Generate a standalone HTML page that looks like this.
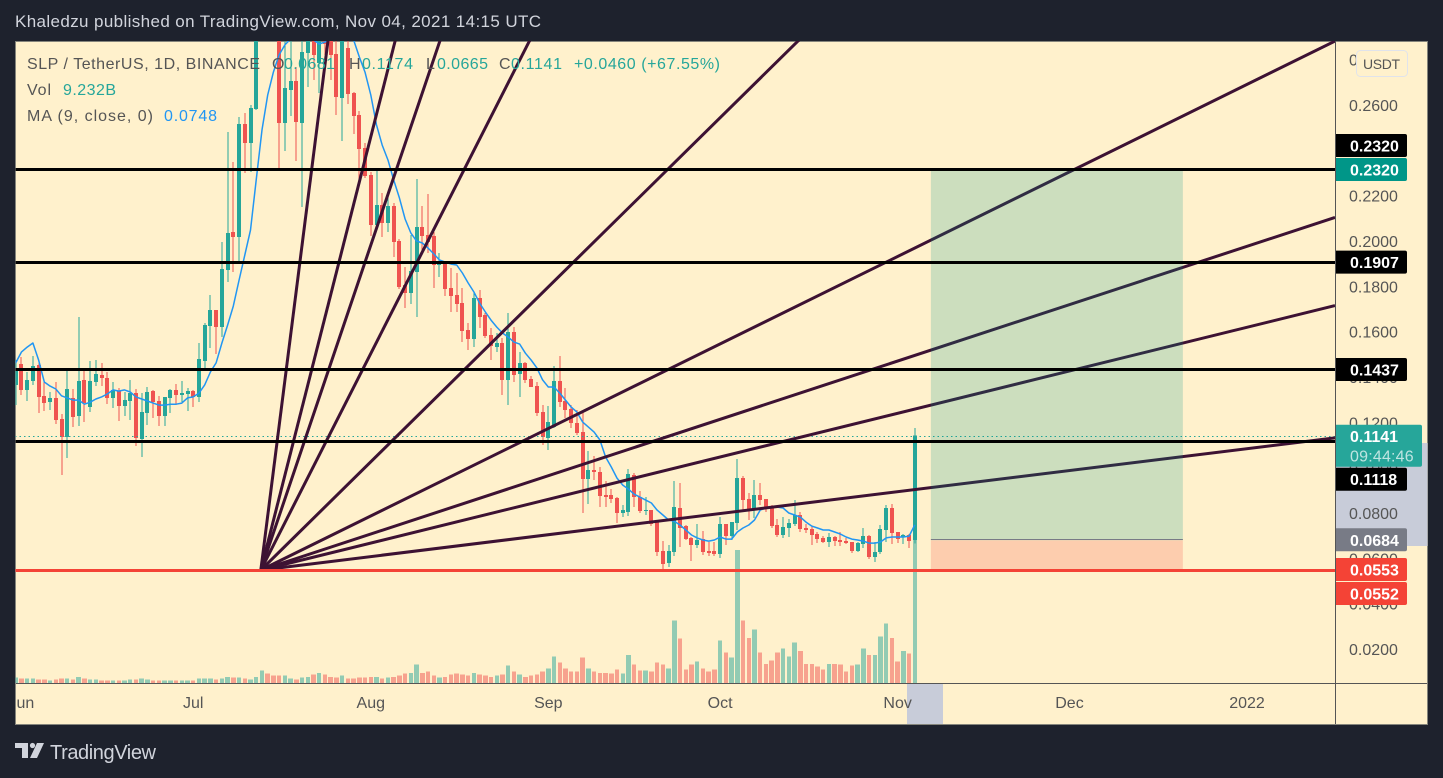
<!DOCTYPE html>
<html lang="en">
<head>
<meta charset="utf-8">
<title>SLP / TetherUS chart</title>
<style>
html,body{margin:0;padding:0;width:1443px;height:778px;overflow:hidden;background:#1e222d}
svg{display:block;font-family:"Liberation Sans",sans-serif}
</style>
</head>
<body>
<svg id="chart" width="1443" height="778" viewBox="0 0 1443 778" xmlns="http://www.w3.org/2000/svg">
  <defs>
    <clipPath id="plot-clip"><rect x="15.5" y="41" width="1320" height="642"/></clipPath>
    <clipPath id="time-clip"><rect x="16" y="684" width="1319" height="40"/></clipPath>
  </defs>
  <rect x="0" y="0" width="1443" height="778" fill="#1e222d"/>
  <text x="15" y="27" font-size="17" fill="#d1d4dc" textLength="526" lengthAdjust="spacing">Khaledzu published on TradingView.com, Nov 04, 2021 14:15 UTC</text>
  <rect x="15.5" y="41.5" width="1412" height="683" fill="#fff1cc" stroke="#85857c" stroke-width="1"/>
  <rect x="1336" y="443" width="91.5" height="103" fill="#c8ccd9"/>
  <rect x="907" y="684" width="36" height="40" fill="#c8ccd9"/>
  <g id="plot" clip-path="url(#plot-clip)"></g>
  <g id="overlay" clip-path="url(#plot-clip)"></g>
  <line x1="16" y1="683.5" x2="1427" y2="683.5" stroke="#555" stroke-width="1"/>
  <line x1="1335.5" y1="41" x2="1335.5" y2="724" stroke="#555" stroke-width="1"/>
  <g id="time-axis" clip-path="url(#time-clip)"></g>
  <g id="price-axis"></g>
  <g id="price-tags"></g>
  <g>
    <rect x="1356.5" y="50.5" width="51" height="26" rx="4" fill="#fff1cc" stroke="#e0e3eb"/>
    <text x="1363" y="69" font-size="14" fill="#555" textLength="37" lengthAdjust="spacing">USDT</text>
  </g>
  <g font-size="16">
    <text x="27" y="69" fill="#555" textLength="233" lengthAdjust="spacing">SLP / TetherUS, 1D, BINANCE</text>
    <text x="272" y="69" fill="#555">O</text>
    <text x="284" y="69" fill="#26a69a" textLength="51" lengthAdjust="spacing">0.0681</text>
    <text x="349" y="69" fill="#555">H</text>
    <text x="362" y="69" fill="#26a69a" textLength="51" lengthAdjust="spacing">0.1174</text>
    <text x="426" y="69" fill="#555">L</text>
    <text x="437" y="69" fill="#26a69a" textLength="51" lengthAdjust="spacing">0.0665</text>
    <text x="499" y="69" fill="#555">C</text>
    <text x="511" y="69" fill="#26a69a" textLength="51" lengthAdjust="spacing">0.1141</text>
    <text x="574" y="69" fill="#26a69a" textLength="146" lengthAdjust="spacing">+0.0460 (+67.55%)</text>
    <text x="27" y="95" fill="#555" textLength="24" lengthAdjust="spacing">Vol</text>
    <text x="63" y="95" fill="#26a69a" textLength="53" lengthAdjust="spacing">9.232B</text>
    <text x="27" y="121" fill="#555" textLength="126" lengthAdjust="spacing">MA (9, close, 0)</text>
    <text x="164" y="121" fill="#2196f3" textLength="53" lengthAdjust="spacing">0.0748</text>
  </g>
  <g>
    <path fill="#d1d4dc" d="M15 743h13v15h-6v-10h-7zM37 743h7l-7 15h-7z"/>
    <circle cx="32.5" cy="745.5" r="2.6" fill="#d1d4dc"/>
    <text x="50" y="759" font-size="20" fill="#d1d4dc" textLength="106" lengthAdjust="spacing">TradingView</text>
  </g>
</svg>
<script>
const opens = [.1365,.1457,.1343,.1383,.1453,.1317,.1289,.1308,.1214,.1135,
.1308,.1227,.1387,.1267,.1378,.1409,.1396,.1308,.1338,.1272,
.1294,.1329,.1126,.1241,.1338,.1294,.1227,.1308,.1343,.1321,
.1325,.1338,.1312,.1470,.1625,.1696,.1620,.1872,.2040,.2018,
.2516,.2432,.2583,.2950,.3300,.3100,.3000,.2521,.2666,.2706,
.2521,.2829,.2953,.2785,.2931,.2931,.2825,.2631,.2851,.2653,
.2556,.2411,.2291,.2071,.2159,.2080,.2154,.2000,.1806,.1771,
.1863,.2062,.2026,.2022,.1894,.1907,.1792,.1762,.1726,.1607,
.1567,.1749,.1673,.1585,.1532,.1550,.1387,.1598,.1413,.1462,
.1391,.1360,.1245,.1131,.1179,.1383,.1294,.1258,.1197,.1157,
.0949,.0990,.0981,.0879,.0879,.0866,.0800,.0804,.0968,.0870,
.0809,.0813,.0760,.0632,.0579,.0628,.0822,.0742,.0690,.0659,
.0685,.0632,.0632,.0619,.0751,.0698,.0756,.0954,.0861,.0813,
.0879,.0861,.0826,.0747,.0703,.0734,.0751,.0791,.0734,.0729,
.0707,.0690,.0672,.0694,.0681,.0676,.0672,.0632,.0663,.0698,
.0606,.0628,.0725,.0822,.0716,.0694,.0703,.0681];
const closes = [.1440,.1343,.1387,.1449,.1312,.1285,.1308,.1210,.1135,.1347,
.1223,.1383,.1285,.1383,.1413,.1396,.1308,.1343,.1272,.1298,
.1329,.1131,.1245,.1334,.1289,.1227,.1312,.1343,.1321,.1329,
.1338,.1312,.1479,.1629,.1696,.1620,.1876,.2035,.2018,.2516,
.2432,.2587,.2975,.3300,.3100,.3000,.2521,.2675,.2706,.2525,
.2834,.2931,.2821,.2931,.2869,.2821,.2635,.2909,.2648,.2551,
.2406,.2286,.2071,.2159,.2080,.2154,.1995,.1797,.1771,.1867,
.2062,.2022,.1995,.1894,.1912,.1788,.1757,.1722,.1603,.1567,
.1749,.1664,.1581,.1536,.1550,.1387,.1598,.1409,.1462,.1387,
.1356,.1241,.1135,.1201,.1383,.1289,.1254,.1197,.1153,.0949,
.0990,.0981,.0875,.0870,.0861,.0800,.0813,.0972,.0870,.0809,
.0813,.0751,.0628,.0575,.0632,.0826,.0734,.0685,.0659,.0681,
.0628,.0624,.0619,.0751,.0698,.0760,.0954,.0857,.0813,.0879,
.0857,.0822,.0742,.0703,.0738,.0756,.0791,.0729,.0725,.0703,
.0685,.0672,.0694,.0676,.0672,.0667,.0632,.0667,.0698,.0606,
.0628,.0729,.0822,.0712,.0685,.0703,.0676,.1141];
const highs = [.1475,.1488,.1422,.1493,.1462,.1378,.1334,.1378,.1236,.1427,
.1347,.1664,.1427,.1470,.1475,.1462,.1422,.1378,.1351,.1334,
.1387,.1347,.1329,.1356,.1343,.1317,.1312,.1347,.1369,.1383,
.1351,.1343,.1550,.1638,.1762,.1696,.1995,.2481,.2348,.2547,
.2565,.2600,.3019,.3400,.3350,.3200,.3050,.2909,.2931,.2768,
.2975,.2953,.2975,.2953,.2953,.2953,.2931,.2975,.2918,.2657,
.2573,.2432,.2304,.2322,.2212,.2194,.2168,.2009,.1885,.2026,
.2273,.2154,.2207,.2040,.1947,.1912,.1881,.1859,.1792,.1638,
.1771,.1784,.1682,.1616,.1594,.1572,.1682,.1620,.1510,.1466,
.1404,.1378,.1276,.1272,.1449,.1493,.1351,.1276,.1254,.1254,
.1074,.1052,.1003,.0941,.0905,.0870,.0835,.0994,.0976,.0897,
.0870,.0813,.0760,.0676,.0659,.0941,.0932,.0747,.0694,.0751,
.0720,.0672,.0672,.0782,.0751,.0760,.1038,.0963,.0888,.0945,
.0932,.0861,.0835,.0773,.0782,.0773,.0857,.0804,.0751,.0742,
.0716,.0698,.0712,.0698,.0716,.0690,.0672,.0672,.0734,.0703,
.0672,.0747,.0835,.0840,.0716,.0707,.0707,.1174];
const lows = [.1276,.1321,.1294,.1365,.1241,.1250,.1254,.1192,.0968,.1043,
.1179,.1184,.1201,.1245,.1360,.1360,.1280,.1263,.1206,.1227,
.1210,.1096,.1047,.1188,.1219,.1184,.1184,.1241,.1276,.1289,
.1250,.1267,.1289,.1427,.1528,.1501,.1576,.1819,.1863,.1903,
.2300,.2304,.2578,.2900,.3000,.2950,.2317,.2397,.2551,.2353,
.2150,.2679,.2710,.2653,.2821,.2710,.2556,.2442,.2604,.2472,
.2238,.2278,.2022,.2057,.2018,.2040,.1929,.1788,.1705,.1722,
.1664,.1947,.1947,.1792,.1841,.1757,.1687,.1687,.1554,.1519,
.1532,.1616,.1572,.1475,.1510,.1321,.1276,.1378,.1312,.1374,
.1356,.1227,.1100,.1078,.1175,.1267,.1219,.1175,.1144,.0799,
.0840,.0945,.0826,.0826,.0844,.0756,.0782,.0786,.0826,.0800,
.0791,.0742,.0611,.0549,.0562,.0611,.0650,.0681,.0588,.0646,
.0615,.0611,.0611,.0602,.0659,.0681,.0725,.0804,.0769,.0778,
.0835,.0804,.0734,.0694,.0690,.0694,.0742,.0716,.0712,.0659,
.0667,.0667,.0650,.0654,.0654,.0663,.0624,.0628,.0646,.0597,
.0584,.0619,.0672,.0663,.0667,.0663,.0646,.0665];
const volumes = [.31,.25,.25,.25,.19,.19,.13,.19,.25,.25,
.19,.36,.25,.19,.19,.13,.13,.13,.13,.13,
.19,.19,.25,.19,.13,.13,.13,.13,.13,.13,
.13,.13,.25,.25,.25,.19,.25,.36,.31,.31,
.25,.19,.36,.71,.54,.42,.42,.42,.25,.19,
.31,.36,.48,.59,.48,.36,.31,.42,.25,.25,
.31,.31,.36,.36,.25,.31,.36,.42,.54,.59,
1.06,.59,.65,.42,.31,.36,.48,.54,.48,.42,
.59,.48,.42,.36,.42,.48,1.00,.65,.48,.36,
.42,.48,.65,.83,1.52,1.17,.83,.65,.65,1.46,
.83,.65,.59,.59,.54,.77,.54,1.63,1.06,.71,
.71,.65,1.17,1.06,.83,3.60,2.56,.77,1.06,1.23,
.83,.65,.77,2.44,1.75,1.46,7.67,3.60,2.61,3.08,
1.75,1.11,1.29,1.75,1.98,1.52,2.33,1.86,1.11,1.11,
.94,.77,1.11,1.11,1.06,.65,1.00,1.06,1.98,1.63,
1.63,2.67,3.42,2.61,1.23,1.86,1.69,9.232];
const maValues = [.1462,.1510,.1532,.1550,.1475,.1378,.1360,.1347,.1317,.1308,
.1298,.1298,.1280,.1289,.1303,.1312,.1325,.1343,.1338,.1343,
.1334,.1312,.1303,.1294,.1285,.1276,.1276,.1280,.1280,.1285,
.1308,.1312,.1329,.1365,.1422,.1462,.1550,.1629,.1713,.1828,
.1938,.2048,.2269,.2490,.2644,.2745,.2821,.2865,.2891,.2909,
.2918,.2904,.2887,.2869,.2878,.2896,.2922,.2931,.2922,.2887,
.2812,.2745,.2644,.2512,.2423,.2357,.2269,.2190,.2097,.2035,
.2000,.1991,.1969,.1943,.1916,.1907,.1898,.1894,.1859,.1815,
.1775,.1726,.1687,.1651,.1620,.1594,.1576,.1554,.1545,.1505,
.1475,.1440,.1387,.1356,.1356,.1329,.1298,.1267,.1245,.1201,
.1179,.1157,.1122,.1047,.1003,.0954,.0923,.0905,.0883,.0870,
.0857,.0844,.0813,.0791,.0769,.0764,.0747,.0725,.0703,.0690,
.0681,.0676,.0681,.0694,.0685,.0685,.0716,.0734,.0747,.0769,
.0813,.0822,.0826,.0826,.0822,.0800,.0791,.0782,.0760,.0742,
.0734,.0725,.0725,.0716,.0707,.0694,.0685,.0681,.0676,.0667,
.0667,.0672,.0690,.0694,.0694,.0694,.0698,.0748];
const priceTickLabels = ["0.2800","0.2600","0.2400","0.2200","0.2000","0.1800","0.1600","0.1400","0.1200","0.1000","0.0800","0.0600","0.0400","0.0200"];
const timeTickLabels = ["Jun","Jul","Aug","Sep","Oct","Nov","Dec","2022"];
const timeTickBars = [1,31,62,93,123,154,184,215];
const levelPrices = [0.2320,0.1907,0.1437,0.1118];
const supportPrice = 0.0553;
const lastPrice = 0.1141;
const fanRatios = [8,4,3,2,1,1/2,1/3,1/4,1/8];
const fanOriginBar = 42.8;
const fanOriginPrice = 0.0548;
const positionEntry = 0.0684;
const positionTarget = 0.2320;
const positionStop = 0.0553;
const positionStartBar = 159.8;
const positionEndBar = 203.8;

const SVGNS = "http://www.w3.org/2000/svg";
function xOf(i){return 15.7 + 5.727 * i;}
function yOf(p){return 105 + (0.26 - p) * 2266.67;}
function volTop(v){return 683 - v * 17.33;}
function mk(tag, attrs, parent){
  const el = document.createElementNS(SVGNS, tag);
  for (const k in attrs) el.setAttribute(k, attrs[k]);
  parent.appendChild(el);
  return el;
}
const plot = document.getElementById('plot');
const overlay = document.getElementById('overlay');
const timeAxis = document.getElementById('time-axis');
const priceAxis = document.getElementById('price-axis');
const priceTags = document.getElementById('price-tags');

/* volume histogram */
volumes.forEach(function(v, i){
  const up = closes[i] >= opens[i];
  const left = Math.round(xOf(i) - 2.25);
  const right = Math.round(xOf(i) + 2.25);
  const bar = mk('rect', {x: left, y: volTop(v), width: right - left, height: 683 - volTop(v), fill: up ? 'rgba(38,166,154,.5)' : 'rgba(239,83,80,.5)', 'shape-rendering': 'crispEdges'}, plot);
  
  
});

/* candles */
opens.forEach(function(o, i){
  const c = closes[i];
  const up = c >= o;
  const colour = up ? '#26a69a' : '#ef5350';
  const cx = Math.round(xOf(i));
  const g = mk('g', {fill: colour, 'shape-rendering': 'crispEdges'}, plot);
  
  
  const wick = mk('rect', {x: cx - 0.5, y: yOf(highs[i]), width: 1, height: yOf(lows[i]) - yOf(highs[i])}, g);
  
  
  const top = yOf(Math.max(o, c));
  const bottom = yOf(Math.min(o, c));
  const body = mk('rect', {x: cx - 2, y: top, width: 4, height: Math.max(1, bottom - top)}, g);
  
  
});

/* moving average */
const maLine = mk('polyline', {points: maValues.map(function(p, i){return xOf(i).toFixed(1) + ',' + yOf(p).toFixed(1);}).join(' '), fill: 'none', stroke: '#2196f3', 'stroke-width': 1.5, 'stroke-linejoin': 'round'}, plot);



/* last price dotted line */
const lastLine = mk('line', {x1: 15, x2: 1335, y1: Math.round(yOf(lastPrice)) + 0.5, y2: Math.round(yOf(lastPrice)) + 0.5, stroke: '#26a69a', 'stroke-width': 1, 'stroke-dasharray': '1.5 3'}, overlay);



/* gann fan */
const fx = xOf(fanOriginBar);
const fy = yOf(fanOriginPrice);
fanRatios.forEach(function(r){
  const slope = 0.985 * r;
  const fan = mk('line', {x1: fx, y1: fy, x2: 1335, y2: fy - (1335 - fx) * slope, stroke: '#3d1233', 'stroke-width': 3}, overlay);
  
  
});

/* long position */
const px1 = xOf(positionStartBar);
const pw = xOf(positionEndBar) - px1;
const profit = mk('rect', {x: px1, y: yOf(positionTarget) + 1, width: pw, height: yOf(positionEntry) - yOf(positionTarget), fill: 'rgba(0,150,136,.2)'}, overlay);


const loss = mk('rect', {x: px1, y: yOf(positionEntry) + 1, width: pw, height: yOf(positionStop) - yOf(positionEntry), fill: 'rgba(244,67,54,.2)'}, overlay);


const entry = mk('line', {x1: px1, x2: px1 + pw, y1: Math.floor(yOf(positionEntry)) + 0.5, y2: Math.floor(yOf(positionEntry)) + 0.5, stroke: '#787b86', 'stroke-width': 1}, overlay);



/* horizontal levels */
levelPrices.forEach(function(p){
  const ly = Math.floor(yOf(p) + 0.7) + 0.5;
  const lvl = mk('line', {x1: 15, x2: 1335, y1: ly, y2: ly, stroke: '#000', 'stroke-width': 3}, overlay);
  
  
});
const sy = Math.floor(yOf(supportPrice) + 1.3) + 0.5;
const support = mk('line', {x1: 15, x2: 1335, y1: sy, y2: sy, stroke: '#f44336', 'stroke-width': 3}, overlay);



/* axis labels */
timeTickLabels.forEach(function(t, i){
  const lab = mk('text', {x: xOf(timeTickBars[i]), y: 708, 'font-size': 16, fill: '#555', 'text-anchor': 'middle'}, timeAxis);
  lab.textContent = t;
  
  
});
priceTickLabels.forEach(function(t){
  const lab = mk('text', {x: 1349, y: yOf(parseFloat(t)) + 6, 'font-size': 16, fill: '#555'}, priceAxis);
  lab.textContent = t;
  
  
});

/* price tags */
function tag(label, centre, colour, width, height){
  const g = mk('g', {}, priceTags);
  
  
  const top = centre - height / 2;
  const shape = mk('path', {d: 'M1336 ' + top + 'h' + (width - 2) + 'a2 2 0 0 1 2 2v' + (height - 4) + 'a2 2 0 0 1 -2 2h-' + (width - 2) + 'z', fill: colour}, g);
  
  
  const txt = mk('text', {x: 1350, y: top + 17.5, 'font-size': 16, 'font-weight': 700, fill: '#fff'}, g);
  txt.textContent = label;
  
  
  return g;
}
const tagH = 23;
const targetY = Math.floor(yOf(positionTarget) + 0.7) + 0.5;
tag(positionTarget.toFixed(4), targetY, '#009688', 71, tagH);
tag(levelPrices[0].toFixed(4), targetY - tagH - 1, '#000', 71, tagH);
tag(levelPrices[1].toFixed(4), yOf(levelPrices[1]), '#000', 71, tagH);
tag(levelPrices[2].toFixed(4), yOf(levelPrices[2]) + 0.9, '#000', 71, tagH);
const lastTop = yOf(lastPrice) - 11;
const lastTag = tag(lastPrice.toFixed(4), lastTop + 21, '#26a69a', 86, 42);
lastTag.querySelector('text').setAttribute('y', lastTop + 17.5);
const countdown = mk('text', {x: 1350, y: lastTop + 37, 'font-size': 16, fill: '#fff', opacity: 0.7, 'letter-spacing': 0.2}, lastTag);
countdown.textContent = '09:44:46';


tag(levelPrices[3].toFixed(4), lastTop + 42 + 1 + tagH / 2, '#000', 71, tagH);
tag(positionEntry.toFixed(4), yOf(positionEntry) + 0.5, '#787b86', 71, tagH);
tag(supportPrice.toFixed(4), yOf(supportPrice) + 0.5, '#f44336', 71, tagH);
tag('0.0552', yOf(supportPrice) + 0.5 + tagH + 1, '#f44336', 71, tagH);
</script>
</body>
</html>
